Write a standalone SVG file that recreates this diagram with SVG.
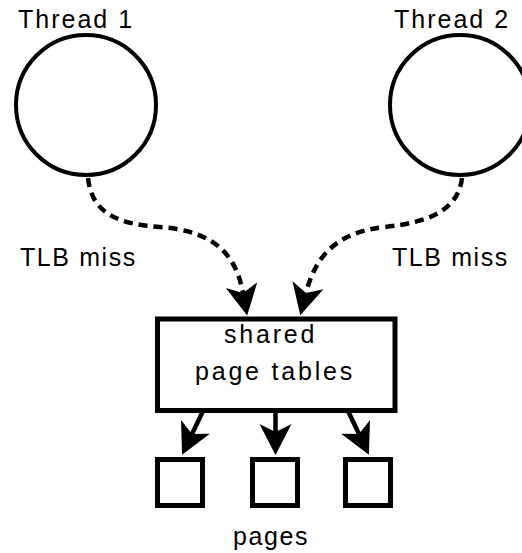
<svg xmlns="http://www.w3.org/2000/svg" width="522" height="553" viewBox="0 0 522 553">
  <style>
    .lbl { font-family: "Liberation Sans", Arial, sans-serif; font-size: 25px; letter-spacing: 2px; fill: #000; }
    .wide { letter-spacing: 2.8px; }
    .tight { letter-spacing: 1.6px; }
    .shape { fill: #fff; stroke: #000; stroke-width: 5; }
    .ring { stroke-width: 4; }
    .edge { fill: none; stroke: #000; stroke-width: 4.5; }
    .dashed { stroke-dasharray: 9 6; }
  </style>
  <defs>
    <!-- notched arrowhead; reference point is the notch, tip lies 23px ahead -->
    <marker id="head" markerUnits="userSpaceOnUse" viewBox="-24 -17 48 34" markerWidth="48" markerHeight="34" refX="0" refY="0" orient="auto">
      <path d="M23,0 L-8,-16 L0,0 L-8,16 Z" fill="#000"/>
    </marker>
  </defs>
  <rect width="522" height="553" fill="#fff"/>

  <g id="thread1">
    <circle class="shape ring" cx="86" cy="105" r="70"/>
    <text class="lbl" x="18" y="28">Thread 1</text>
  </g>
  <g id="thread2">
    <circle class="shape ring" cx="460" cy="105" r="70"/>
    <text class="lbl" x="394" y="28">Thread 2</text>
  </g>
  <g id="tables">
    <rect class="shape" x="157.5" y="319" width="237.5" height="91.5"/>
    <text class="lbl wide" x="224" y="343">shared</text>
    <text class="lbl wide" x="195" y="380">page tables</text>
  </g>
  <g id="page1"><rect class="shape" x="157.5" y="459.5" width="45" height="46"/></g>
  <g id="page2"><rect class="shape" x="252.5" y="459.5" width="45" height="46"/></g>
  <g id="page3"><rect class="shape" x="345.5" y="459.5" width="45" height="46"/></g>
  <g id="pages-label">
    <text class="lbl tight" x="233" y="545">pages</text>
  </g>

  <g id="connectors">
    <path class="edge dashed" d="M88,178 C92,215 120,224 160,227 C215,231 236,255 243,293" marker-end="url(#head)"/>
    <path class="edge dashed" d="M462,178 C458,210 430,222 385,227 C335,232 315,258 306,293" marker-end="url(#head)"/>
    <text class="lbl tight" x="20" y="266">TLB miss</text>
    <text class="lbl tight" x="392" y="266">TLB miss</text>
    <path class="edge" d="M203,411 L192,434" marker-end="url(#head)"/>
    <path class="edge" d="M275.5,411 L275.5,432" marker-end="url(#head)"/>
    <path class="edge" d="M348,411 L359,434" marker-end="url(#head)"/>
  </g>
</svg>
